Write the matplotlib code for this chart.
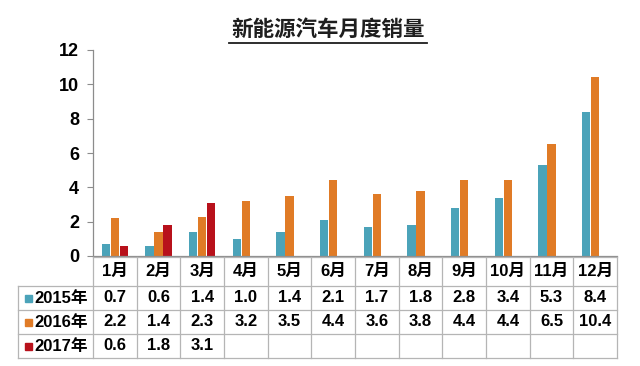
import matplotlib
matplotlib.use("Agg")
import matplotlib.pyplot as plt
from matplotlib.lines import Line2D
from matplotlib.patches import Rectangle
import numpy as np

plt.rcParams['font.family'] = ['Liberation Sans', 'Noto Sans CJK SC', 'DejaVu Sans']

months = ['1月', '2月', '3月', '4月', '5月', '6月', '7月', '8月', '9月', '10月', '11月', '12月']
series_names = ['2015年', '2016年', '2017年']
v2015 = [0.7, 0.6, 1.4, 1.0, 1.4, 2.1, 1.7, 1.8, 2.8, 3.4, 5.3, 8.4]
v2016 = [2.2, 1.4, 2.3, 3.2, 3.5, 4.4, 3.6, 3.8, 4.4, 4.4, 6.5, 10.4]
v2017 = [0.6, 1.8, 3.1]
colors = ['#4ba3b9', '#e07b26', '#b8111b']
title = '新能源汽车月度销量'
yticks = [0, 2, 4, 6, 8, 10, 12]

W, H = 640, 366
fig = plt.figure(figsize=(W / 100, H / 100), dpi=100)
ax_l, ax_r, ax_t, ax_b = 93, 617, 50, 256
ax = fig.add_axes([ax_l / W, 1 - ax_b / H, (ax_r - ax_l) / W, (ax_b - ax_t) / H])

n = len(months)
x = np.arange(n)
bw = 0.205
all_series = [v2015, v2016, v2017]
for i, vals in enumerate(all_series):
    xs = x[:len(vals)] + (i - 1) * bw
    ax.bar(xs, vals, width=bw * 0.92, color=colors[i], zorder=2)

ax.set_xlim(-0.5, n - 0.5)
ax.set_ylim(0, 12)
ax.set_yticks(yticks)
ax.set_yticklabels([str(t) for t in yticks], fontsize=13, fontweight='bold')
ax.set_xticks([])
for s in ['top', 'right']:
    ax.spines[s].set_visible(False)
for s in ['left', 'bottom']:
    ax.spines[s].set_color('#8c8c8c')
    ax.spines[s].set_linewidth(0.9)
ax.tick_params(axis='y', length=4, color='#8c8c8c', pad=6)

# table in figure pixel coordinates
def fx(px):
    return px / W

def fy(py):
    return 1 - py / H

grid_color = '#b5b5b5'
col_w = (ax_r - ax_l) / n
row_y = [257, 286, 310, 334, 358]
left_x = 18

def hline(x0, x1, y):
    fig.add_artist(Line2D([fx(x0), fx(x1)], [fy(y), fy(y)], color=grid_color, lw=0.9))

def vline(xp, y0, y1):
    fig.add_artist(Line2D([fx(xp), fx(xp)], [fy(y0), fy(y1)], color=grid_color, lw=0.9))

hline(ax_l, ax_r, row_y[0])
for y in row_y[1:]:
    hline(left_x, ax_r, y)
vline(left_x, row_y[1], row_y[-1])
for j in range(n + 1):
    vline(ax_l + j * col_w, row_y[0], row_y[-1])

fs = 12
for j, m in enumerate(months):
    cx = ax_l + (j + 0.5) * col_w
    fig.text(fx(cx), fy((row_y[0] + row_y[1]) / 2), m, ha='center', va='center',
             fontsize=fs, fontweight='bold')

for i, vals in enumerate(all_series):
    cy = (row_y[i + 1] + row_y[i + 2]) / 2
    fig.add_artist(Rectangle((fx(25), fy(cy + 3.5)), 7 / W, 7 / H, color=colors[i],
                             transform=fig.transFigure))
    fig.text(fx(34), fy(cy), series_names[i], ha='left', va='center',
             fontsize=fs, fontweight='bold')
    for j, v in enumerate(vals):
        cx = ax_l + (j + 0.5) * col_w
        fig.text(fx(cx), fy(cy), f'{v:.1f}', ha='center', va='center',
                 fontsize=fs, fontweight='bold')

# title with underline
fig.text(fx(328), fy(30), title, ha='center', va='center', fontsize=15.5,
         fontweight='bold', color='#1e1e1e')
fig.add_artist(Line2D([fx(229), fx(427)], [fy(43), fy(43)], color='#1e1e1e', lw=1.3))

fig.savefig('out.png', dpi=100)
